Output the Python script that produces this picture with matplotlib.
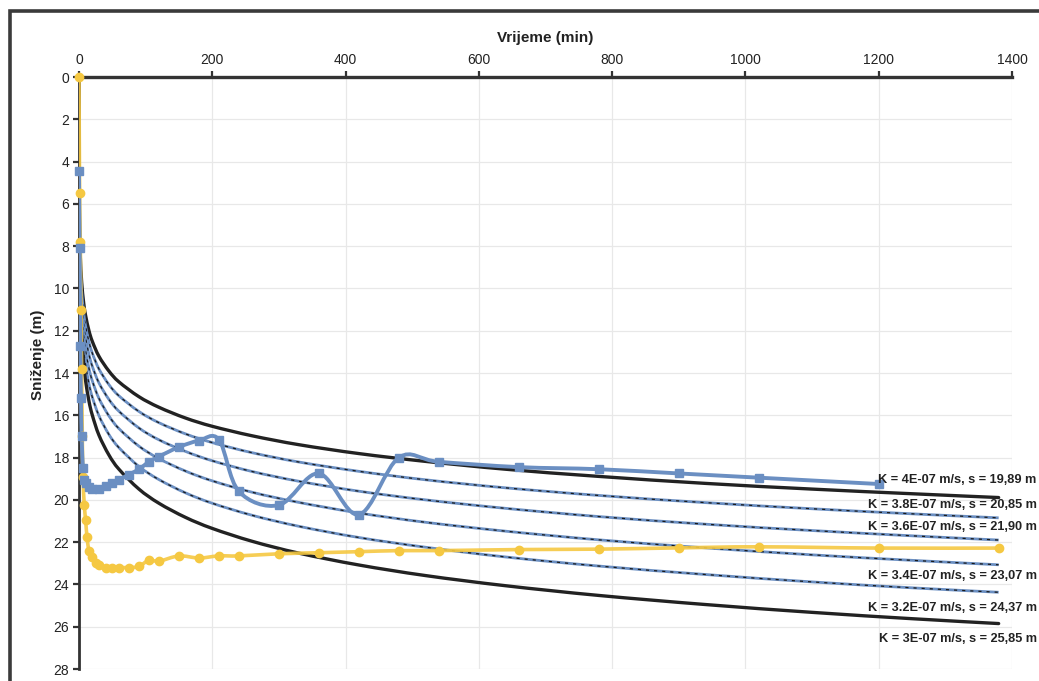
import numpy as np
import matplotlib
matplotlib.use("Agg")
import matplotlib.pyplot as plt
from matplotlib.path import Path
from matplotlib.patches import PathPatch, Rectangle

plt.rcParams["font.family"] = ["Liberation Sans", "DejaVu Sans"]

# ── theoretical drawdown curves (Cooper-Jacob), one per hydraulic conductivity ──
t_theory = [0.2, 0.5, 1, 2, 4, 7, 10, 15, 20, 30, 45, 60, 90, 120, 160, 200,
            260, 330, 420, 520, 640, 780, 940, 1100, 1250, 1380]

s_k40 = [4.46, 6.06, 7.27, 8.48, 9.69, 10.67, 11.29, 12.00, 12.50, 13.21, 13.91,
         14.42, 15.12, 15.62, 16.13, 16.52, 16.97, 17.39, 17.81, 18.18, 18.55,
         18.89, 19.22, 19.49, 19.71, 19.89]
s_k38 = [4.60, 6.29, 7.56, 8.83, 10.11, 11.13, 11.79, 12.53, 13.06, 13.81, 14.55,
         15.08, 15.82, 16.35, 16.88, 17.29, 17.77, 18.21, 18.65, 19.05, 19.43,
         19.79, 20.13, 20.42, 20.66, 20.85]
s_k36 = [4.75, 6.53, 7.87, 9.22, 10.56, 11.65, 12.34, 13.12, 13.68, 14.47, 15.25,
         15.81, 16.60, 17.16, 17.71, 18.15, 18.66, 19.12, 19.59, 20.00, 20.40,
         20.79, 21.15, 21.45, 21.70, 21.90]
s_k34 = [4.92, 6.80, 8.22, 9.64, 11.07, 12.21, 12.95, 13.78, 14.37, 15.20, 16.03,
         16.63, 17.46, 18.05, 18.64, 19.10, 19.64, 20.12, 20.62, 21.06, 21.48,
         21.89, 22.27, 22.60, 22.86, 23.07]
s_k32 = [5.09, 7.09, 8.60, 10.11, 11.63, 12.85, 13.62, 14.51, 15.14, 16.02, 16.91,
         17.53, 18.42, 19.04, 19.67, 20.16, 20.73, 21.25, 21.78, 22.24, 22.70,
         23.13, 23.53, 23.88, 24.16, 24.37]
s_k30 = [5.28, 7.41, 9.02, 10.64, 12.25, 13.55, 14.38, 15.33, 15.99, 16.94, 17.88,
         18.55, 19.49, 20.16, 20.83, 21.35, 21.96, 22.52, 23.08, 23.58, 24.06,
         24.52, 24.95, 25.32, 25.62, 25.85]

curve_labels = ["K = 4E-07 m/s, s = 19,89 m",
                "K = 3.8E-07 m/s, s = 20,85 m",
                "K = 3.6E-07 m/s, s = 21,90 m",
                "K = 3.4E-07 m/s, s = 23,07 m",
                "K = 3.2E-07 m/s, s = 24,37 m",
                "K = 3E-07 m/s, s = 25,85 m"]
label_depth = [19.05, 20.25, 21.3, 23.6, 25.1, 26.6]

# ── measured drawdown, two wells ──
t_blue = [0, 1, 2, 3, 4, 6, 8, 10, 15, 20, 30, 40, 50, 60, 75, 90, 105, 120,
          150, 180, 210, 240, 300, 360, 420, 480, 540, 660, 780, 900, 1020, 1200]
s_blue = [4.45, 8.1, 12.7, 15.2, 17.0, 18.5, 19.05, 19.2, 19.4, 19.5, 19.5,
          19.35, 19.2, 19.05, 18.8, 18.55, 18.2, 17.95, 17.5, 17.2, 17.15,
          19.6, 20.25, 18.75, 20.7, 18.0, 18.2, 18.45, 18.55, 18.75, 18.95, 19.25]

t_yellow = [0, 1, 2, 3, 4, 5, 6, 8, 10, 12, 15, 20, 25, 30, 40, 50, 60, 75, 90,
            105, 120, 150, 180, 210, 240, 300, 360, 420, 480, 540, 660, 780,
            900, 1020, 1200, 1380]
s_yellow = [0.0, 5.5, 7.8, 11.0, 13.8, 17.0, 18.9, 20.25, 20.95, 21.75, 22.4,
            22.7, 23.0, 23.1, 23.2, 23.2, 23.2, 23.2, 23.15, 22.85, 22.9, 22.65,
            22.75, 22.65, 22.65, 22.55, 22.5, 22.45, 22.4, 22.4, 22.35, 22.33,
            22.27, 22.22, 22.28, 22.28]

x_ticks = [0, 200, 400, 600, 800, 1000, 1200, 1400]
y_ticks = list(range(0, 29, 2))

BLUE = "#6b8fc2"
YELLOW = "#f5c842"
DARK = "#222222"


def smooth_path(xs, ys):
    """Catmull-Rom style cubic Bezier through the points (Excel 'smoothed line')."""
    p = np.column_stack([xs, ys]).astype(float)
    n = len(p)
    verts = [p[0]]
    codes = [Path.MOVETO]
    for i in range(n - 1):
        p_prev = p[i - 1] if i > 0 else p[i]
        p_next2 = p[i + 2] if i + 2 < n else p[i + 1]
        c1 = p[i] + (p[i + 1] - p_prev) / 6.0
        c2 = p[i + 1] - (p_next2 - p[i]) / 6.0
        verts += [c1, c2, p[i + 1]]
        codes += [Path.CURVE4] * 3
    return Path(verts, codes)


def draw_smooth(ax, xs, ys, **kw):
    patch = PathPatch(smooth_path(xs, ys), fill=False, **kw)
    ax.add_patch(patch)
    return patch


fig = plt.figure(figsize=(10.39, 6.81), dpi=100)
fig.patch.set_facecolor("white")
ax = fig.add_axes([0.0760, 0.0176, 0.898, 0.8693])

# grid
ax.set_xlim(0, 1400)
ax.set_ylim(28, 0)
ax.set_xticks(x_ticks)
ax.set_yticks(y_ticks)
ax.grid(True, color="#e8e8e8", lw=0.9)
ax.set_axisbelow(True)

# theoretical curves: outer two solid black, inner four blue with black dashes
curves = [s_k40, s_k38, s_k36, s_k34, s_k32, s_k30]
for i, s in enumerate(curves):
    if i in (0, len(curves) - 1):
        draw_smooth(ax, t_theory, s, ec=DARK, lw=2.4, zorder=3,
                    capstyle="round")
    else:
        draw_smooth(ax, t_theory, s, ec=BLUE, lw=2.0, zorder=3)
        draw_smooth(ax, t_theory, s, ec="#1a1a1a", lw=0.9, zorder=3,
                    linestyle=(0, (2.5, 4)))
    ax.text(1437, label_depth[i], curve_labels[i], ha="right", va="center",
            fontsize=9.2, fontweight="bold", color=DARK, clip_on=False,
            zorder=6)

# measured series
draw_smooth(ax, t_yellow, s_yellow, ec=YELLOW, lw=2.6, zorder=4, alpha=0.9)
ax.plot(t_yellow, s_yellow, linestyle="none", marker="o", ms=6,
        mfc=YELLOW, mec=YELLOW, zorder=5, clip_on=False)

draw_smooth(ax, t_blue, s_blue, ec=BLUE, lw=2.8, zorder=4)
ax.plot(t_blue, s_blue, linestyle="none", marker="s", ms=6,
        mfc=BLUE, mec=BLUE, zorder=5, clip_on=False)

# axes styling: time axis on top, drawdown increasing downward
ax.xaxis.tick_top()
for side in ("right", "bottom"):
    ax.spines[side].set_visible(False)
ax.spines["top"].set_linewidth(2.4)
ax.spines["left"].set_linewidth(2.0)
ax.spines["top"].set_color("#333333")
ax.spines["left"].set_color("#333333")
ax.tick_params(axis="both", direction="out", length=4, width=1.6,
               colors="#333333", labelcolor="#222222", labelsize=10, pad=3)

fig.text(545.5 / 1039, 1 - 38 / 681, "Vrijeme (min)", ha="center",
         va="center", fontsize=11, fontweight="bold", color=DARK)
fig.text(38 / 1039, 1 - 355 / 681, "Sniženje (m)", ha="center",
         va="center", rotation=90, fontsize=11, fontweight="bold", color=DARK)

# outer frame of the chart
fig.patches.append(Rectangle((10 / 1039, -0.2), 1.5, 0.2 + 1 - 11 / 681,
                             transform=fig.transFigure, fill=False,
                             ec="#3a3a3a", lw=2.6))

fig.savefig("out.png", dpi=100, facecolor="white")
